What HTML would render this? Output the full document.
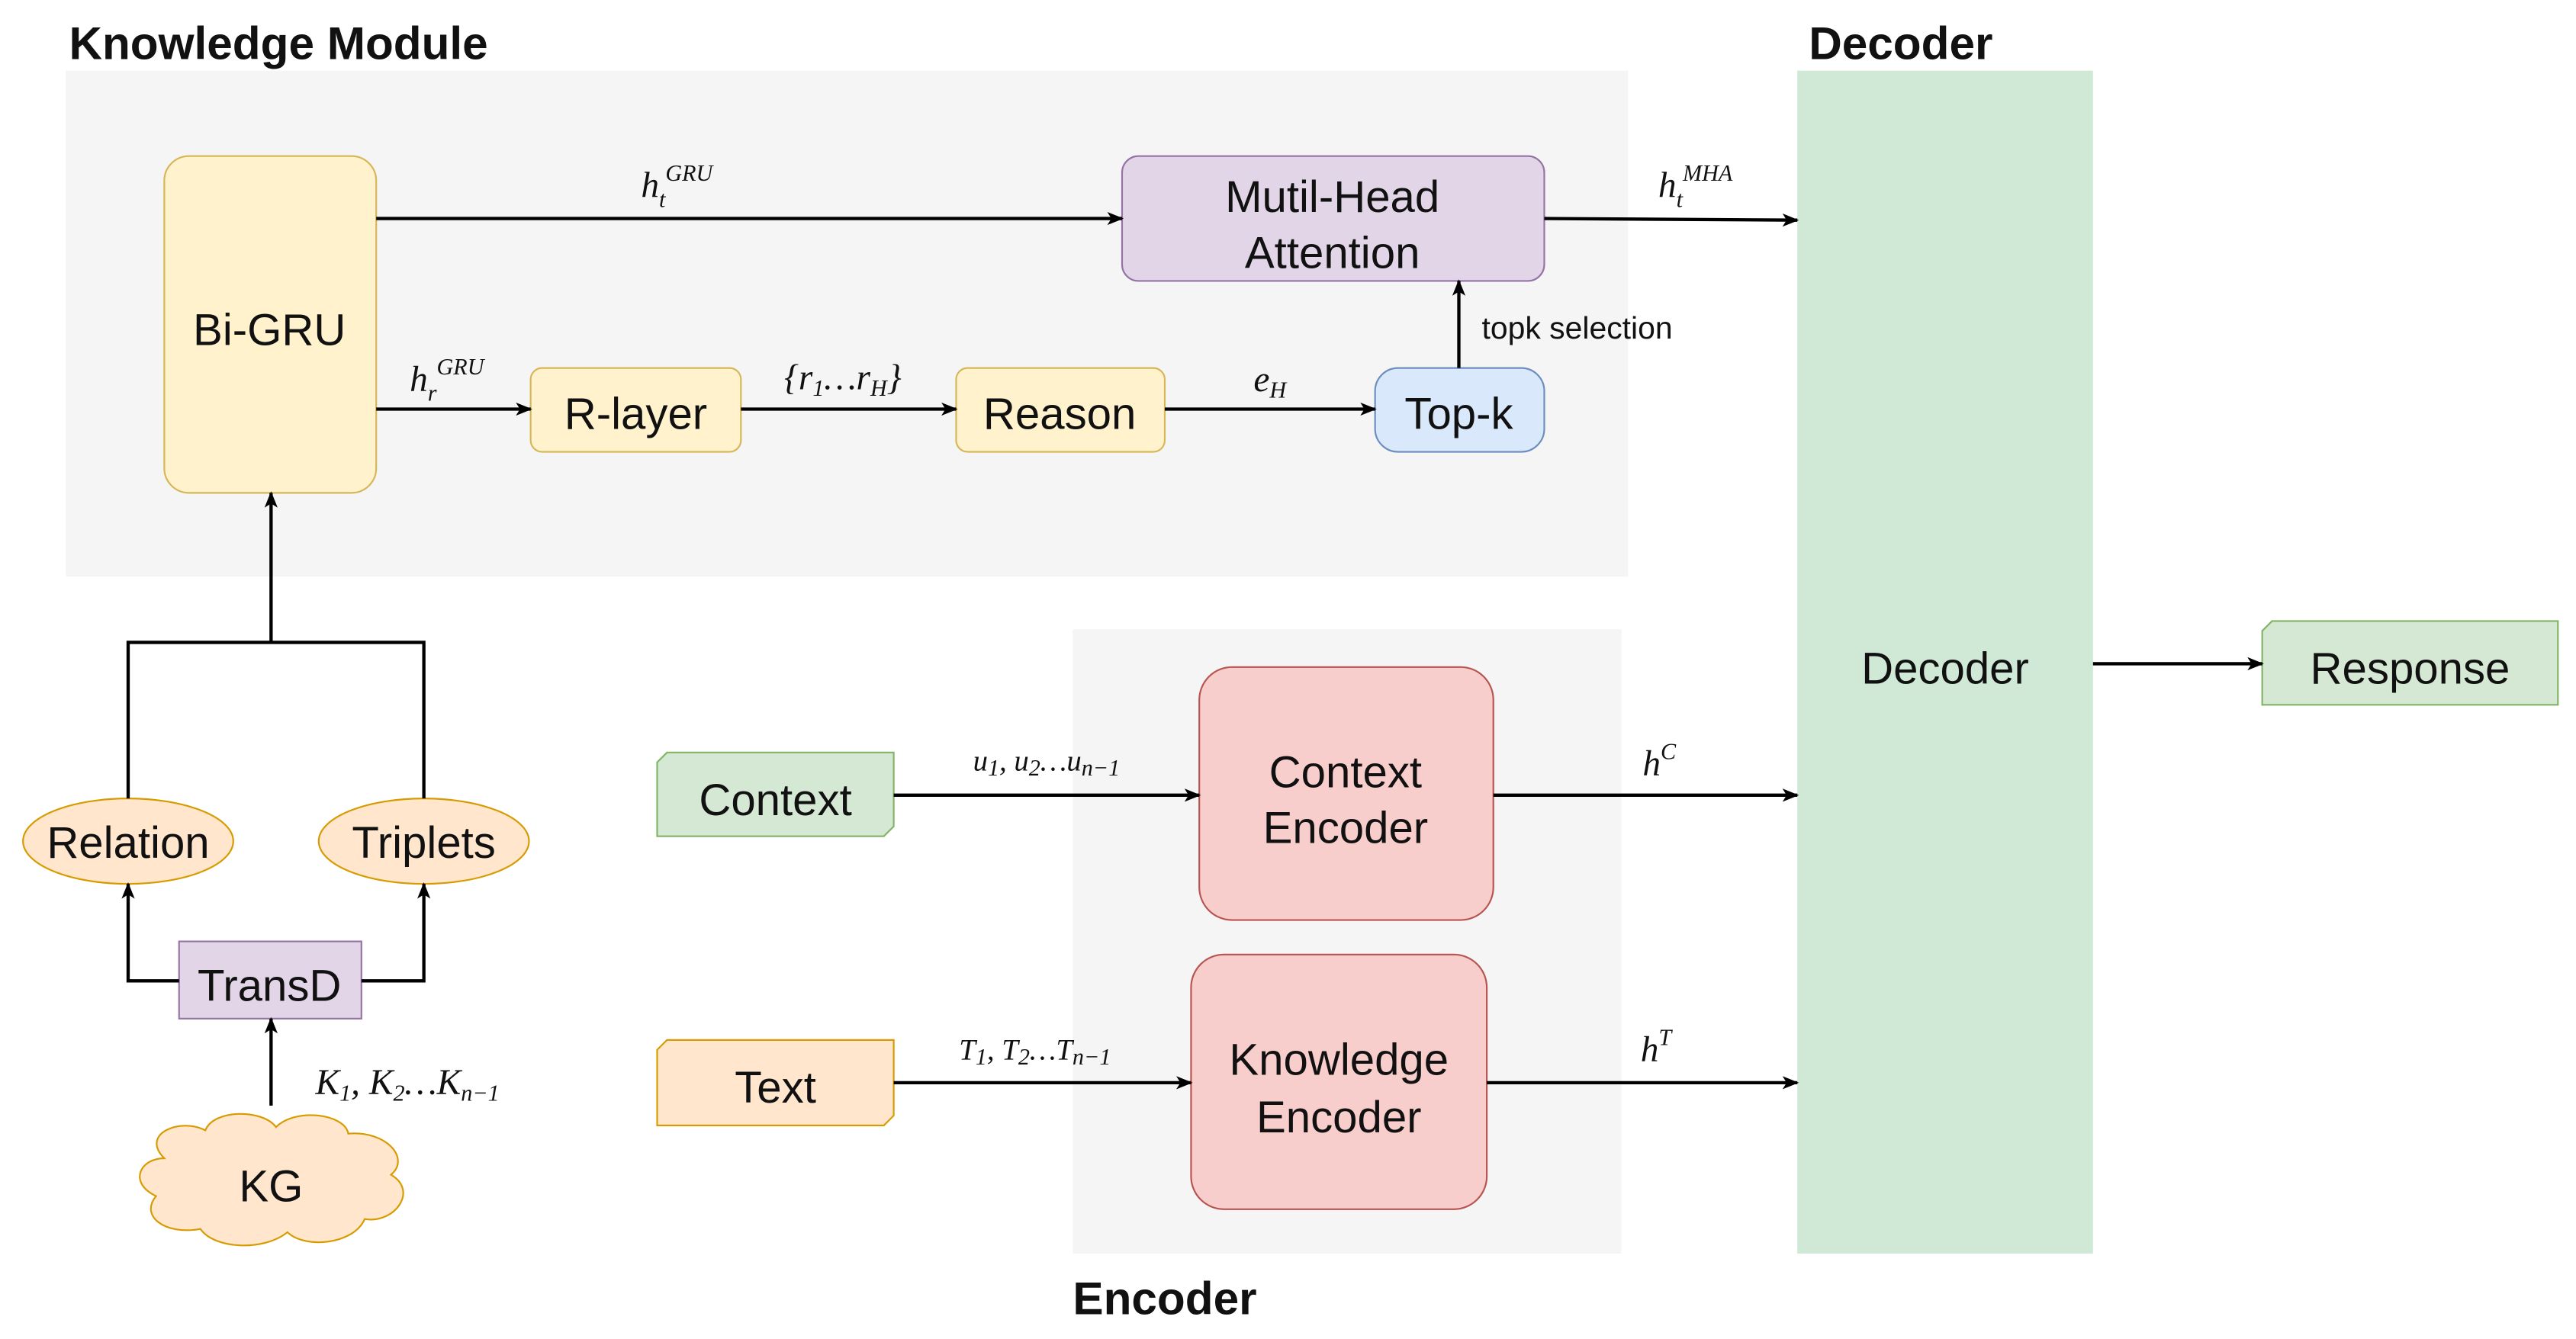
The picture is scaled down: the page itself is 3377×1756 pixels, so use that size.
<!DOCTYPE html>
<html><head><meta charset="utf-8"><style>
html,body{margin:0;padding:0;background:#fff;}
svg{display:block;}
.t{font-family:"Liberation Sans",sans-serif;font-size:27px;fill:#111;text-anchor:middle;dominant-baseline:middle;}
.b{font-family:"Liberation Sans",sans-serif;font-size:28px;font-weight:bold;fill:#111;}
.m{font-family:"Liberation Serif",serif;font-style:italic;font-size:22px;fill:#111;text-anchor:middle;}
.s{font-size:14px;}
.l{stroke:#000;stroke-width:2;fill:none;}
</style></head><body>
<svg width="3377" height="1756" viewBox="0 0 1568 815" preserveAspectRatio="none" xmlns="http://www.w3.org/2000/svg">
<defs><marker id="a" markerWidth="10" markerHeight="10" refX="9" refY="5" orient="auto" markerUnits="userSpaceOnUse"><path d="M0,1 L10,5 L0,9 L2.5,5 Z" fill="#000"/></marker></defs>
<rect x="40" y="43" width="951" height="308" fill="#f5f5f5"/>
<text class="b" x="42" y="36">Knowledge Module</text>
<text class="b" x="1101" y="36">Decoder</text>
<text class="b" x="653" y="800">Encoder</text>
<rect x="653" y="383" width="334" height="380" fill="#f5f5f5"/>
<rect x="1094" y="43" width="180" height="720" fill="#d0e9d6"/>
<text class="t" x="1184" y="409">Decoder</text>

<rect x="100" y="95" width="129" height="205" rx="15" fill="#fff2cc" stroke="#d6b656"/>
<text class="t" x="164" y="203">Bi-GRU</text>
<rect x="683" y="95" width="257" height="76" rx="10" fill="#e1d5e7" stroke="#9673a6"/>
<text class="t" x="811" y="122">Mutil-Head</text><text class="t" x="811" y="156">Attention</text>
<rect x="323" y="224" width="128" height="51" rx="7" fill="#fff2cc" stroke="#d6b656"/>
<text class="t" x="387" y="254">R-layer</text>
<rect x="582" y="224" width="127" height="51" rx="7" fill="#fff2cc" stroke="#d6b656"/>
<text class="t" x="645" y="254">Reason</text>
<rect x="837" y="224" width="103" height="51" rx="14" fill="#dae8fc" stroke="#6c8ebf"/>
<text class="t" x="888" y="254">Top-k</text>

<rect x="730" y="406" width="179" height="154" rx="20" fill="#f8cecc" stroke="#b85450"/>
<text class="t" x="819" y="472">Context</text><text class="t" x="819" y="506">Encoder</text>
<rect x="725" y="581" width="180" height="155" rx="20" fill="#f8cecc" stroke="#b85450"/>
<text class="t" x="815" y="647">Knowledge</text><text class="t" x="815" y="682">Encoder</text>

<path d="M406,458 H544 V503 L538,509 H400 V464 Z" fill="#d5e8d4" stroke="#82b366"/>
<text class="t" x="472" y="489">Context</text>
<path d="M406,633 H544 V679 L538,685 H400 V639 Z" fill="#ffe6cc" stroke="#d79b00"/>
<text class="t" x="472" y="664">Text</text>
<path d="M1383,378 H1557 V429 H1377 V384 Z" fill="#d5e8d4" stroke="#82b366"/>
<text class="t" x="1467" y="409">Response</text>

<ellipse cx="78" cy="512" rx="64" ry="26" fill="#ffe6cc" stroke="#d79b00"/>
<text class="t" x="78" y="515">Relation</text>
<ellipse cx="258" cy="512" rx="64" ry="26" fill="#ffe6cc" stroke="#d79b00"/>
<text class="t" x="258" y="515">Triplets</text>
<rect x="109" y="573" width="111" height="47" fill="#e1d5e7" stroke="#9673a6"/>
<text class="t" x="164" y="602">TransD</text>
<path d="M100,705 C85,690 110,680 125,688 C130,675 160,675 168,686 C180,674 210,678 212,690 C235,688 250,705 238,715 C255,725 240,745 222,742 C215,758 185,760 175,750 C160,762 130,760 122,748 C100,752 85,740 95,728 C78,720 85,705 100,705 Z" fill="#ffe6cc" stroke="#d79b00"/>
<text class="t" x="165" y="724">KG</text>

<line class="l" x1="229" y1="133" x2="683" y2="133" marker-end="url(#a)"/>
<line class="l" x1="940" y1="133" x2="1094" y2="134" marker-end="url(#a)"/>
<line class="l" x1="229" y1="249" x2="323" y2="249" marker-end="url(#a)"/>
<line class="l" x1="451" y1="249" x2="582" y2="249" marker-end="url(#a)"/>
<line class="l" x1="709" y1="249" x2="837" y2="249" marker-end="url(#a)"/>
<line class="l" x1="888" y1="224" x2="888" y2="171" marker-end="url(#a)"/>
<line class="l" x1="544" y1="484" x2="730" y2="484" marker-end="url(#a)"/>
<line class="l" x1="909" y1="484" x2="1094" y2="484" marker-end="url(#a)"/>
<line class="l" x1="544" y1="659" x2="725" y2="659" marker-end="url(#a)"/>
<line class="l" x1="905" y1="659" x2="1094" y2="659" marker-end="url(#a)"/>
<line class="l" x1="1274" y1="404" x2="1377" y2="404" marker-end="url(#a)"/>
<path class="l" d="M78,486 V391 H258 V486"/>
<line class="l" x1="165" y1="391" x2="165" y2="300" marker-end="url(#a)"/>
<path class="l" d="M109,597 H78 V538" marker-end="url(#a)"/>
<path class="l" d="M220,597 H258 V538" marker-end="url(#a)"/>
<line class="l" x1="165" y1="673" x2="165" y2="620" marker-end="url(#a)"/>

<text class="t" x="960" y="201" style="font-size:19px">topk selection</text>
<text class="m" x="412" y="120">h<tspan class="s" dy="6">t</tspan><tspan class="s" dy="-16">GRU</tspan></text>
<text class="m" x="272" y="238">h<tspan class="s" dy="6">r</tspan><tspan class="s" dy="-16">GRU</tspan></text>
<text class="m" x="513" y="237">{r<tspan class="s" dy="4">1</tspan><tspan dy="-4">…r</tspan><tspan class="s" dy="4">H</tspan><tspan dy="-4">}</tspan></text>
<text class="m" x="773" y="238">e<tspan class="s" dy="4">H</tspan></text>
<text class="m" x="1032" y="120">h<tspan class="s" dy="6">t</tspan><tspan class="s" dy="-16">MHA</tspan></text>
<text class="m" x="637" y="469" style="font-size:18px">u<tspan class="s" dy="3">1</tspan><tspan dy="-3">, u</tspan><tspan class="s" dy="3">2</tspan><tspan dy="-3">…u</tspan><tspan class="s" dy="3">n−1</tspan></text>
<text class="m" x="630" y="645" style="font-size:18px">T<tspan class="s" dy="3">1</tspan><tspan dy="-3">, T</tspan><tspan class="s" dy="3">2</tspan><tspan dy="-3">…T</tspan><tspan class="s" dy="3">n−1</tspan></text>
<text class="m" x="1010" y="472">h<tspan class="s" dy="-10">C</tspan></text>
<text class="m" x="1008" y="646">h<tspan class="s" dy="-10">T</tspan></text>
<text class="m" x="248" y="666" style="font-size:22px">K<tspan class="s" dy="4">1</tspan><tspan dy="-4">, K</tspan><tspan class="s" dy="4">2</tspan><tspan dy="-4">…K</tspan><tspan class="s" dy="4">n−1</tspan></text>
</svg>
</body></html>
